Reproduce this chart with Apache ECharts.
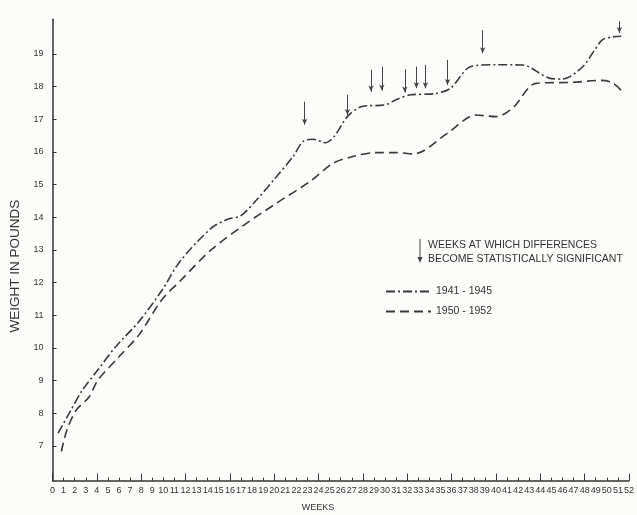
<!DOCTYPE html>
<html>
<head>
<meta charset="utf-8">
<script src="https://cdn.jsdelivr.net/npm/echarts@6/dist/echarts.min.js"></script>
<style>
html,body{margin:0;padding:0;background:#fcfcfa;}
#chart{width:637px;height:515px;}
</style>
</head>
<body>
<div id="chart"></div>
<script>
// ---- data ----
const seriesNames = ['1941 - 1945', '1950 - 1952'];

const weeksA  = [0.5, 1.5, 2.7, 4.1, 5.7, 7.8, 9.9, 11.5, 14.3, 15.8, 17.0, 18.4, 20.2, 21.7, 22.6, 23.5, 24.6, 25.4, 26.6, 27.9, 30.0, 31.0, 32.3, 34.4, 35.9, 37.7, 40.0, 42.4, 44.8, 46.0, 47.8, 48.9, 49.6, 50.5, 51.3];
const weightA = [7.39, 8.0, 8.71, 9.33, 10.04, 10.81, 11.78, 12.65, 13.66, 13.94, 14.05, 14.53, 15.24, 15.86, 16.32, 16.39, 16.28, 16.47, 17.08, 17.39, 17.44, 17.6, 17.75, 17.78, 17.95, 18.61, 18.67, 18.66, 18.26, 18.23, 18.6, 19.12, 19.43, 19.52, 19.54];

const weeksB  = [0.8, 1.3, 2.15, 3.3, 4.1, 6.0, 7.8, 9.85, 11.6, 14.3, 17.3, 20.2, 23.2, 25.3, 27.0, 29.1, 31.0, 32.6, 35.6, 38.2, 40.0, 41.5, 43.6, 46.8, 49.5, 50.5, 51.4];
const weightB = [6.83, 7.49, 8.10, 8.50, 9.02, 9.73, 10.40, 11.47, 12.08, 13.0, 13.77, 14.43, 15.09, 15.65, 15.85, 15.98, 15.98, 15.94, 16.57, 17.13, 17.08, 17.34, 18.10, 18.13, 18.19, 18.12, 17.85];

// arrows: weeks at which differences become statistically significant
const arrowWeeks = [22.74, 26.6, 28.73, 29.71, 31.78, 32.82, 33.64, 35.63, 38.8, 51.13];
const arrowTop   = [17.54, 17.75, 18.51, 18.61, 18.53, 18.61, 18.66, 18.82, 19.73, 20.0];
const arrowTip   = [16.83, 17.13, 17.85, 17.88, 17.82, 17.95, 17.95, 18.05, 19.02, 19.64];

const yTicks = [7, 8, 9, 10, 11, 12, 13, 14, 15, 16, 17, 18, 19];

const noteLines = ['WEEKS AT WHICH DIFFERENCES', 'BECOME STATISTICALLY SIGNIFICANT'];
const xName = 'WEEKS';
const yName = 'WEIGHT IN POUNDS';

// ---- chart ----
const FONT = "'Liberation Sans', Arial, Helvetica, sans-serif";
const INK = '#333';
const chart = echarts.init(document.getElementById('chart'), null, {renderer: 'canvas'});

const pairs = (xs, ys) => xs.map((x, i) => [x, ys[i]]);

chart.setOption({
  backgroundColor: '#fcfcfa',
  animation: false,
  textStyle: {fontFamily: FONT, color: INK},
  grid: {left: 52.5, top: 19.3, width: 585, height: 461.3, containLabel: false},
  xAxis: [
    {
      type: 'value', min: 0, max: 52, interval: 1,
      axisLine: {show: true, lineStyle: {color: INK, width: 1.5}},
      axisTick: {show: true, inside: true, length: 3, lineStyle: {color: INK, width: 1}},
      axisLabel: {fontSize: 9, margin: 5, color: INK, fontFamily: FONT, showMaxLabel: true, showMinLabel: true},
      splitLine: {show: false}
    },
    {
      type: 'value', min: 0, max: 52, interval: 4, position: 'bottom',
      axisLine: {show: false},
      axisTick: {show: true, inside: true, length: 7, lineStyle: {color: INK, width: 1}},
      axisLabel: {show: false},
      splitLine: {show: false}
    }
  ],
  yAxis: {
    type: 'value', min: 5.94, max: 20.06,
    axisLine: {show: true, lineStyle: {color: INK, width: 1.5}},
    axisTick: {show: true, inside: true, length: 4, customValues: yTicks, lineStyle: {color: INK, width: 1}},
    axisLabel: {customValues: yTicks, fontSize: 9, margin: 9, color: INK, fontFamily: FONT},
    splitLine: {show: false}
  },
  legend: {
    data: seriesNames,
    orient: 'vertical',
    left: 380, top: 281,
    itemWidth: 45, itemHeight: 14, itemGap: 8.7,
    itemStyle: {color: 'rgba(0,0,0,0)', borderColor: 'rgba(0,0,0,0)', borderWidth: 0},
    textStyle: {fontSize: 10.5, color: INK, fontFamily: FONT},
    selectedMode: false
  },
  series: [
    {
      name: seriesNames[0], type: 'line', xAxisIndex: 0,
      data: pairs(weeksA, weightA),
      smooth: 0.3, symbol: 'none', showSymbol: false,
      lineStyle: {color: '#3a3a3a', width: 1.6, type: [9, 3, 2, 3]},
      itemStyle: {color: '#3a3a3a'},
      markLine: {
        silent: true,
        symbol: ['none', 'arrow'],
        symbolSize: [4, 6],
        label: {show: false},
        lineStyle: {type: 'solid', width: 1, color: '#444'},
        data: arrowWeeks.map((w, i) => [{coord: [w, arrowTop[i]]}, {coord: [w, arrowTip[i]]}])
      }
    },
    {
      name: seriesNames[1], type: 'line', xAxisIndex: 0,
      data: pairs(weeksB, weightB),
      smooth: 0.3, symbol: 'none', showSymbol: false,
      lineStyle: {color: '#3a3a3a', width: 1.6, type: [9, 5]},
      itemStyle: {color: '#3a3a3a'}
    }
  ],
  graphic: [
    {type: 'line', shape: {x1: 420, y1: 239, x2: 420, y2: 258}, style: {stroke: '#444', lineWidth: 1}},
    {type: 'polygon', shape: {points: [[417.5, 257], [422.5, 257], [420, 263]]}, style: {fill: '#444'}},
    {type: 'text', x: 428, y: 245, style: {text: noteLines[0], fontSize: 10.5, fontFamily: FONT, fill: INK, align: 'left', verticalAlign: 'middle'}},
    {type: 'text', x: 428, y: 259, style: {text: noteLines[1], fontSize: 10.5, fontFamily: FONT, fill: INK, align: 'left', verticalAlign: 'middle'}},
    {type: 'text', x: 318, y: 508, style: {text: xName, fontSize: 9, fontFamily: FONT, fill: INK, align: 'center', verticalAlign: 'middle'}},
    {type: 'text', x: 15.5, y: 266, rotation: Math.PI / 2, style: {text: yName, fontSize: 13.5, fontFamily: FONT, fill: INK, align: 'center', verticalAlign: 'middle'}}
  ]
});
</script>
</body>
</html>
